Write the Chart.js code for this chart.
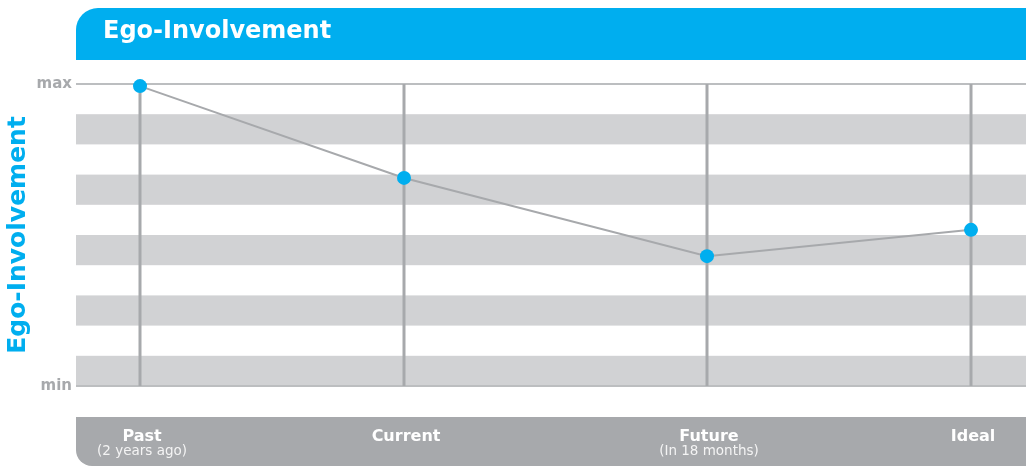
<!DOCTYPE html>
<html>
<head>
<meta charset="utf-8">
<title>Ego-Involvement</title>
<script src="https://cdn.jsdelivr.net/npm/chart.js@4/dist/chart.umd.min.js"></script>
<style>
  html, body { margin: 0; padding: 0; background: #fff; }
  #egoChart { display: block; }
</style>
</head>
<body>
<canvas id="egoChart" width="1026" height="466"></canvas>
<script>
// Chart values
const categories = ['Past', 'Current', 'Future', 'Ideal'];
const subLabels = ['(2 years ago)', '', '(In 18 months)', ''];
const xSlots = [6.74, 34.53, 66.42, 94.21];      // position on the timeline (0-100)
const involvement = [9.93, 6.89, 4.3, 5.17];     // 0 = min, 10 = max
const yTickLabels = { 0: 'min', 10: 'max' };

const BLUE = '#00aeef';
const GREY = '#a7a9ac';
const STRIPE = '#d1d2d4';
const FONT = "'DejaVu Sans', Verdana, sans-serif";

Chart.defaults.font.family = FONT;

// Header bar, stripes, column lines and the bottom label bar
const decorations = {
    id: 'decorations',
    beforeDatasetsDraw(chart) {
        const { ctx, chartArea: a, scales: { x, y } } = chart;
        ctx.save();
        // alternating bands
        ctx.fillStyle = STRIPE;
        for (let i = 0; i < 10; i += 2) {
            const top = y.getPixelForValue(i + 1);
            const bottom = y.getPixelForValue(i);
            ctx.fillRect(a.left, top, a.right - a.left, bottom - top);
        }
        // max / min rules
        ctx.strokeStyle = '#bcbec0';
        ctx.lineWidth = 2;
        [0, 10].forEach(v => {
            const py = Math.round(y.getPixelForValue(v));
            ctx.beginPath();
            ctx.moveTo(a.left, py);
            ctx.lineTo(a.right, py);
            ctx.stroke();
        });
        // column lines
        ctx.strokeStyle = GREY;
        ctx.lineWidth = 3;
        xSlots.forEach(v => {
            const px = Math.round(x.getPixelForValue(v));
            ctx.beginPath();
            ctx.moveTo(px, y.getPixelForValue(10));
            ctx.lineTo(px, y.getPixelForValue(0));
            ctx.stroke();
        });
        ctx.restore();
    },
    afterDraw(chart) {
        const { ctx, chartArea: a, scales: { x } } = chart;
        const W = chart.width, H = chart.height;
        ctx.save();
        // header
        ctx.fillStyle = BLUE;
        ctx.beginPath();
        ctx.roundRect(a.left, 8, W - a.left, 52, [22, 0, 0, 0]);
        ctx.fill();
        ctx.fillStyle = '#fff';
        ctx.font = 'bold 24px ' + FONT;
        ctx.textAlign = 'left';
        ctx.textBaseline = 'middle';
        ctx.fillText('Ego-Involvement', 103, 32);
        // bottom bar
        ctx.fillStyle = GREY;
        ctx.beginPath();
        ctx.roundRect(a.left, 417, W - a.left, H - 417, [0, 0, 0, 16]);
        ctx.fill();
        ctx.textAlign = 'center';
        ctx.textBaseline = 'alphabetic';
        categories.forEach((c, i) => {
            const px = x.getPixelForValue(xSlots[i]) + 2;
            ctx.fillStyle = '#fff';
            ctx.font = 'bold 16px ' + FONT;
            ctx.fillText(c, px, 441);
            if (subLabels[i]) {
                ctx.fillStyle = '#f4f4f4';
                ctx.font = '13.5px ' + FONT;
                ctx.fillText(subLabels[i], px, 455);
            }
        });
        ctx.restore();
    }
};

new Chart(document.getElementById('egoChart').getContext('2d'), {
    type: 'line',
    data: {
        datasets: [{
            label: 'Ego-Involvement',
            data: involvement.map((v, i) => ({ x: xSlots[i], y: v })),
            borderColor: GREY,
            borderWidth: 2,
            pointRadius: 7,
            pointHoverRadius: 7,
            pointBackgroundColor: BLUE,
            pointBorderWidth: 0,
            tension: 0,
            clip: false
        }]
    },
    options: {
        responsive: false,
        animation: false,
        events: [],
        layout: { autoPadding: false, padding: { top: 84, right: 0, bottom: 80, left: 0 } },
        plugins: {
            legend: { display: false },
            tooltip: { enabled: false }
        },
        scales: {
            x: { type: 'linear', min: 0, max: 100, display: false },
            y: {
                min: 0,
                max: 10,
                afterFit: s => { s.width = 76; },
                afterBuildTicks: s => { s.ticks = [{ value: 0 }, { value: 10 }]; },
                grid: { display: false, drawTicks: false, tickLength: 0 },
                border: { display: false },
                ticks: {
                    padding: 4,
                    color: GREY,
                    font: { size: 15, weight: 'bold' },
                    callback: v => yTickLabels[v] || ''
                },
                title: {
                    display: true,
                    text: 'Ego-Involvement',
                    color: BLUE,
                    font: { size: 25, weight: 'bold' },
                    padding: { top: 3, bottom: 0 }
                }
            }
        }
    },
    plugins: [decorations]
});
</script>
</body>
</html>
